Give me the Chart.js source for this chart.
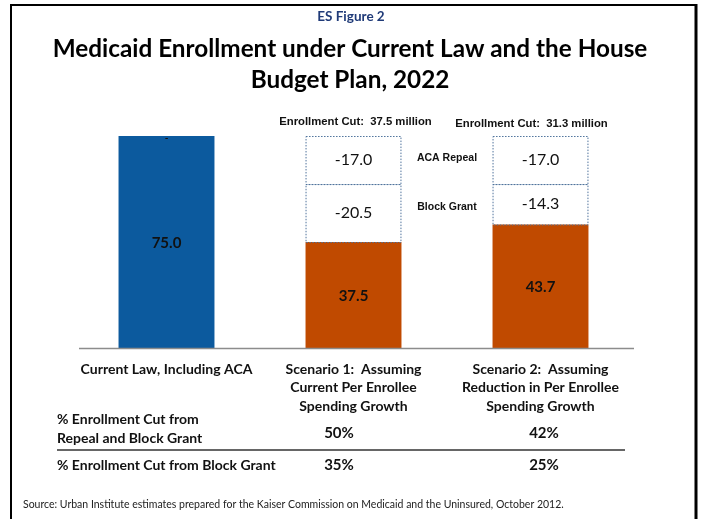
<!DOCTYPE html>
<html>
<head>
<meta charset="utf-8">
<script src="https://cdn.jsdelivr.net/npm/chart.js@4"></script>
<style>
  html, body { margin: 0; padding: 0; background: #fff; }
  canvas { display: block; }
</style>
</head>
<body>
<canvas id="enrollChart" width="701" height="519"></canvas>
<script>
// Data (millions of enrollees, 2022)
const categories = [
  ['Current Law, Including ACA'],
  ['Scenario 1:  Assuming', 'Current Per Enrollee', 'Spending Growth'],
  ['Scenario 2:  Assuming', 'Reduction in Per Enrollee', 'Spending Growth']
];
const remaining = [75.0, 37.5, 43.7];
const blockGrantCut = [0, 20.5, 14.3];
const acaRepealCut = [0, 17.0, 17.0];
const enrollmentCut = [null, 37.5, 31.3];
const pctRepealAndBlock = ['', '50%', '42%'];
const pctBlockOnly = ['', '35%', '25%'];
const segmentNames = ['Block Grant', 'ACA Repeal'];

const FONT = 'Lato, "Open Sans", sans-serif';
const BLUE = '#0c5a9e';
const ORANGE = '#c04a00';

// labels, dotted boxes, titles and the table under the bars
const decorPlugin = {
  id: 'decor',
  beforeDraw(chart) {
    const ctx = chart.ctx;
    ctx.save();
    ctx.fillStyle = '#fff';
    ctx.fillRect(0, 0, chart.width, chart.height);
    ctx.restore();
  },
  afterDatasetsDraw(chart) {
    const ctx = chart.ctx;
    const base = chart.getDatasetMeta(0).data;
    const bg = chart.getDatasetMeta(1).data;
    const aca = chart.getDatasetMeta(2).data;
    ctx.save();

    // dotted outline round the cut segments
    ctx.strokeStyle = '#4f739c';
    ctx.lineWidth = 1;
    ctx.setLineDash([1.5, 1.5]);
    [bg, aca].forEach((els, d) => {
      els.forEach((el, i) => {
        const v = d === 0 ? blockGrantCut[i] : acaRepealCut[i];
        if (!v) return;
        const p = el.getProps(['x', 'y', 'base', 'width'], true);
        ctx.strokeRect(p.x - p.width / 2 + 0.5, p.y + 0.5, p.width - 1, p.base - p.y);
      });
    });
    ctx.setLineDash([]);

    ctx.textAlign = 'center';
    ctx.textBaseline = 'middle';

    // remaining enrollment
    ctx.fillStyle = '#111';
    ctx.font = 'bold 15px ' + FONT;
    base.forEach((el, i) => {
      const p = el.getProps(['x', 'y', 'base'], true);
      ctx.fillText(remaining[i].toFixed(1), p.x, (p.y + p.base) / 2 + 1);
    });

    // cut segments
    ctx.font = '16px ' + FONT;
    [[bg, blockGrantCut], [aca, acaRepealCut]].forEach(([els, vals]) => {
      els.forEach((el, i) => {
        if (!vals[i]) return;
        const p = el.getProps(['x', 'y', 'base'], true);
        ctx.fillText('-' + vals[i].toFixed(1), p.x, (p.y + p.base) / 2);
      });
    });
    // zero marker on the current law bar
    const z = aca[0].getProps(['x', 'y'], true);
    ctx.font = 'bold 10px ' + FONT;
    ctx.fillText('-', z.x, z.y + 2);

    // segment names between scenario bars
    ctx.font = 'bold 10.5px "Liberation Sans", Arial, sans-serif';
    [bg, aca].forEach((els, d) => {
      const a = els[1].getProps(['x', 'y', 'base', 'width'], true);
      const b = els[2].getProps(['x', 'y', 'base', 'width'], true);
      const x = (a.x + a.width / 2 + b.x - b.width / 2) / 2;
      const y = ((a.y + a.base) / 2 + (b.y + b.base) / 2) / 2 - 2;
      ctx.fillText(segmentNames[d], x, y);
    });

    // enrollment cut totals above bars
    ctx.font = 'bold 11.3px "Liberation Sans", Arial, sans-serif';
    const cutOffsets = [0, 2, -9];
    const cutY = [0, 122, 124];
    enrollmentCut.forEach((v, i) => {
      if (v === null) return;
      ctx.fillText('Enrollment Cut:  ' + v.toFixed(1) + ' million', base[i].x + cutOffsets[i], cutY[i]);
    });
    ctx.restore();
  },
  afterDraw(chart) {
    const ctx = chart.ctx;
    const xs = chart.scales.x;
    const area = chart.chartArea;
    ctx.save();

    // baseline
    ctx.strokeStyle = '#8c8c8c';
    ctx.lineWidth = 1.5;
    ctx.beginPath();
    ctx.moveTo(area.left + 6, area.bottom + 0.5);
    ctx.lineTo(area.right, area.bottom + 0.5);
    ctx.stroke();

    ctx.textAlign = 'center';
    ctx.textBaseline = 'middle';

    // titles
    ctx.fillStyle = '#1f3a78';
    ctx.font = 'bold 13.5px ' + FONT;
    ctx.fillText('ES Figure 2', 351, 17);
    ctx.fillStyle = '#000';
    ctx.font = 'bold 24.3px ' + FONT;
    ctx.fillText('Medicaid Enrollment under Current Law and the House', 350, 49);
    ctx.fillText('Budget Plan, 2022', 350, 80);

    // category labels
    ctx.fillStyle = '#111';
    ctx.font = 'bold 14px ' + FONT;
    categories.forEach((lines, i) => {
      const x = xs.getPixelForValue(i);
      lines.forEach((t, j) => ctx.fillText(t, x, 369 + j * 18.5));
    });

    // table
    ctx.textAlign = 'left';
    ctx.fillText('% Enrollment Cut from', 57, 419);
    ctx.fillText('Repeal and Block Grant', 57, 438);
    ctx.fillText('% Enrollment Cut from Block Grant', 57, 465);
    ctx.textAlign = 'center';
    ctx.font = 'bold 15px ' + FONT;
    const pctX = [0, 339, 544];
    pctRepealAndBlock.forEach((t, i) => { if (t) ctx.fillText(t, pctX[i], 433); });
    pctBlockOnly.forEach((t, i) => { if (t) ctx.fillText(t, pctX[i], 465); });
    ctx.strokeStyle = '#333';
    ctx.lineWidth = 1.5;
    ctx.beginPath();
    ctx.moveTo(57, 450);
    ctx.lineTo(625, 450);
    ctx.stroke();

    // source
    ctx.textAlign = 'left';
    ctx.font = '10.5px ' + FONT;
    ctx.fillStyle = '#222';
    ctx.fillText('Source: Urban Institute estimates prepared for the Kaiser Commission on Medicaid and the Uninsured, October 2012.', 23, 505);

    // frame
    ctx.strokeStyle = '#000';
    ctx.lineWidth = 2;
    ctx.beginPath();
    ctx.moveTo(11, 519);
    ctx.lineTo(11, 5);
    ctx.lineTo(696, 5);
    ctx.stroke();
    ctx.lineWidth = 3;
    ctx.beginPath();
    ctx.moveTo(696, 4);
    ctx.lineTo(696, 519);
    ctx.stroke();
    ctx.restore();
  }
};

new Chart(document.getElementById('enrollChart'), {
  type: 'bar',
  data: {
    labels: categories,
    datasets: [
      {
        label: 'Remaining enrollment',
        data: remaining,
        backgroundColor: [BLUE, ORANGE, ORANGE],
        borderWidth: 0
      },
      {
        label: 'Block Grant',
        data: blockGrantCut,
        backgroundColor: '#fff',
        borderWidth: 0
      },
      {
        label: 'ACA Repeal',
        data: acaRepealCut,
        backgroundColor: '#fff',
        borderWidth: 0
      }
    ]
  },
  options: {
    responsive: false,
    animation: false,
    events: [],
    layout: { padding: { left: 73, right: 67, top: 136, bottom: 171 } },
    datasets: { bar: { categoryPercentage: 1, barPercentage: 0.513 } },
    plugins: {
      legend: { display: false },
      tooltip: { enabled: false }
    },
    scales: {
      x: { stacked: true, display: false },
      y: { stacked: true, display: false, min: 0, max: 75 }
    }
  },
  plugins: [decorPlugin]
});
</script>
</body>
</html>
